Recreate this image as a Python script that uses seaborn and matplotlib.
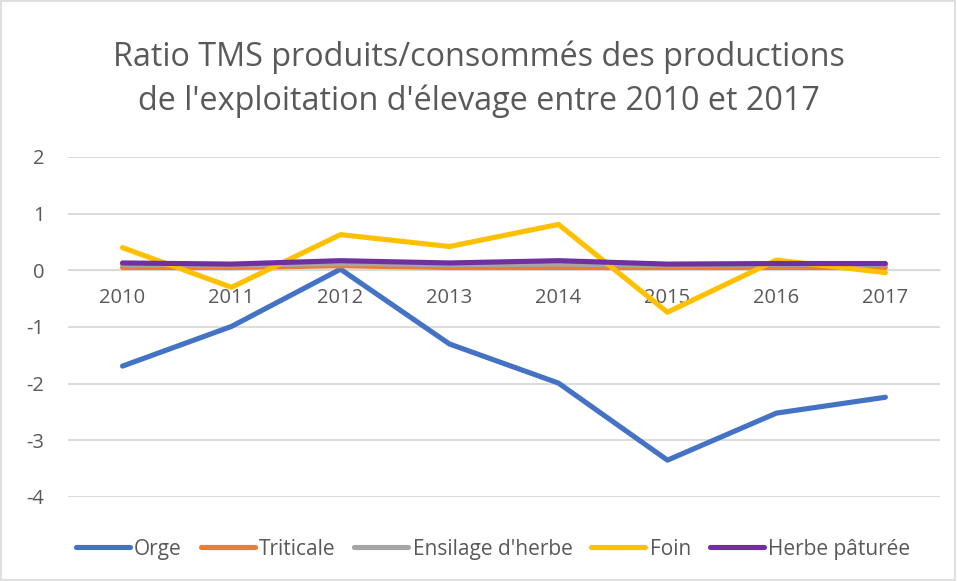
import matplotlib
matplotlib.use("Agg")
import matplotlib.pyplot as plt
import seaborn as sns
import pandas as pd
from matplotlib.patches import Rectangle

# données
annees = ["2010", "2011", "2012", "2013", "2014", "2015", "2016", "2017"]
orge = [-1.69, -0.99, 0.02, -1.30, -1.99, -3.35, -2.52, -2.24]
triticale = [0.05, 0.05, 0.08, 0.05, 0.05, 0.05, 0.05, 0.05]
ensilage = [0.10, 0.09, 0.12, 0.10, 0.11, 0.09, 0.10, 0.10]
foin = [0.40, -0.30, 0.63, 0.42, 0.81, -0.74, 0.18, -0.04]
herbe = [0.13, 0.11, 0.17, 0.13, 0.17, 0.11, 0.12, 0.12]

series = ["Orge", "Triticale", "Ensilage d'herbe", "Foin", "Herbe pâturée"]
couleurs = ["#4472C4", "#ED7D31", "#A5A5A5", "#FFC000", "#7030A0"]

rows = []
for nom, vals in zip(series, [orge, triticale, ensilage, foin, herbe]):
    for i, v in enumerate(vals):
        rows.append({"idx": i, "valeur": v, "serie": nom})
df = pd.DataFrame(rows)

sns.set_style("white")
plt.rcParams["font.family"] = ["Open Sans", "DejaVu Sans"]
plt.rcParams["axes.unicode_minus"] = False
gris = "#595959"

fig = plt.figure(figsize=(9.57, 5.81), dpi=100)
ax = fig.add_axes([0.0711, 0.1446, 0.911, 0.5852])

sns.lineplot(data=df, x="idx", y="valeur", hue="serie", hue_order=series,
             palette=couleurs, linewidth=3.7, ax=ax, legend=False,
             solid_capstyle="round")

ax.set_xlim(-0.5, 7.5)
ax.set_ylim(-4, 2)
ax.set_yticks(range(-4, 3))
ax.grid(axis="y", color="#D9D9D9", linewidth=1.3)
ax.set_axisbelow(True)
for s in ["left", "right", "top"]:
    ax.spines[s].set_visible(False)
ax.spines["bottom"].set_position(("data", 0))
ax.spines["bottom"].set_color("#D9D9D9")
ax.spines["bottom"].set_zorder(0)
ax.set_xticks(range(len(annees)))
ax.set_xticklabels(annees)
ax.tick_params(axis="x", length=0, pad=13, labelsize=14.5, labelcolor=gris)
ax.tick_params(axis="y", length=0, pad=17, labelsize=14.5, labelcolor=gris)
ax.set_xlabel("")
ax.set_ylabel("")

fig.text(0.5, 0.863, "Ratio TMS produits/consommés des productions\nde l'exploitation d'élevage entre 2010 et 2017",
         ha="center", va="center", fontsize=23.3, color=gris, linespacing=1.4)

handles = [plt.Line2D([], [], color=c, lw=3.7, solid_capstyle="round") for c in couleurs]
leg = fig.legend(handles, series, loc="center", bbox_to_anchor=(0.515, 0.055), ncol=5,
                 frameon=False, fontsize=15, handlelength=2.6, handletextpad=0.2,
                 columnspacing=0.9)
for t in leg.get_texts():
    t.set_color(gris)

fig.patches.append(Rectangle((0.001, 0.001), 0.997, 0.997, transform=fig.transFigure,
                             fill=False, edgecolor="#D9D9D9", linewidth=1.2))

fig.savefig("out.png", dpi=100)
